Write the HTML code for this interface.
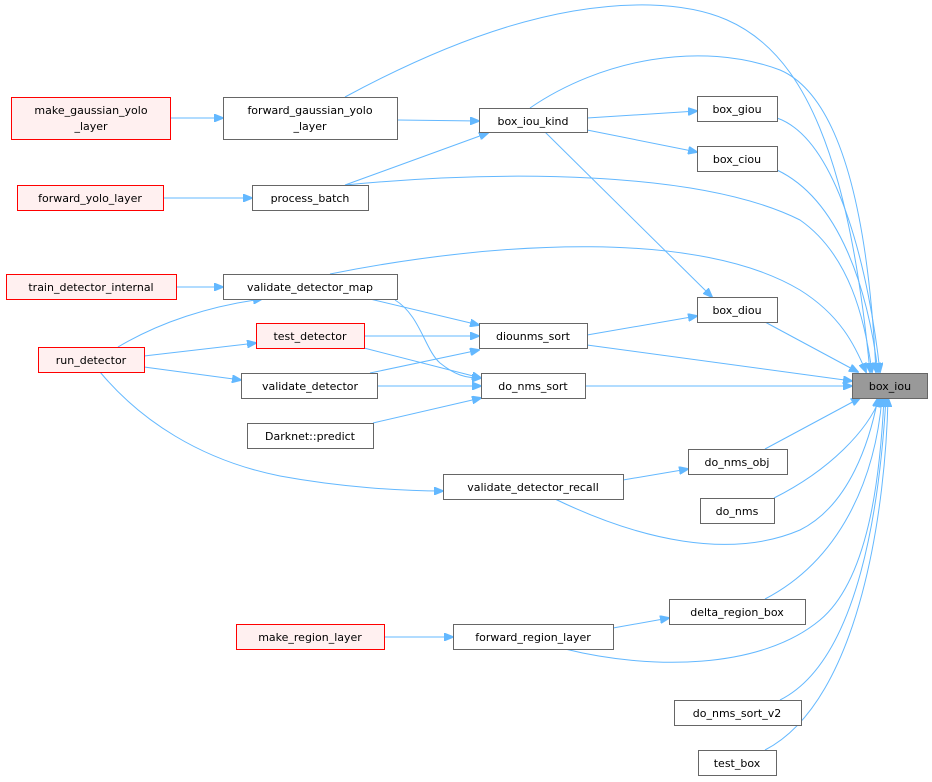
<!DOCTYPE html>
<html><head><meta charset="utf-8"><style>
html,body{margin:0;padding:0;background:#fff;}
svg{display:block;}
text{font-family:"DejaVu Sans","Liberation Sans",sans-serif;font-size:11px;fill:#000;}
.n{fill:#fff;stroke:#666;stroke-width:1;}
.r{fill:#fff0f0;stroke:#ff0000;stroke-width:1;}
.e{fill:none;stroke:#63b8ff;stroke-width:1;marker-end:url(#a);}
</style></head><body>
<svg width="932" height="782" viewBox="0 0 932 782">
<defs><marker id="a" markerWidth="10" markerHeight="8" refX="9" refY="4" orient="auto" markerUnits="userSpaceOnUse"><path d="M0,0 L10,4 L0,8 z" fill="#63b8ff" stroke="#63b8ff"/></marker></defs>
<path class="e" d="M345,97 C460,35 560,3 650,5 C760,8 840,60 870,372"/>
<path class="e" d="M530,108 C600,60 700,40 780,70 C850,100 870,250 876,372"/>
<path class="e" d="M777,118 C840,140 870,280 880,372"/>
<path class="e" d="M777,170 C840,200 868,290 878,372"/>
<path class="e" d="M345,185 C500,170 700,170 800,220 C850,255 865,320 872,372"/>
<path class="e" d="M330,274 C500,240 700,230 800,290 C840,315 855,345 866,372"/>
<path class="e" d="M765,322 L858,372"/>
<path class="e" d="M587,345 L852,381"/>
<path class="e" d="M585,386 L852,386"/>
<path class="e" d="M765,449 L860,398"/>
<path class="e" d="M774,498 C830,470 868,430 880,398"/>
<path class="e" d="M555,499 C640,540 730,560 800,530 C850,505 870,440 878,398"/>
<path class="e" d="M765,599 C840,560 875,480 882,398"/>
<path class="e" d="M565,649 C650,670 760,670 820,620 C868,580 880,480 884,398"/>
<path class="e" d="M780,700 C860,660 880,500 886,398"/>
<path class="e" d="M765,750 C862,700 886,500 888,398"/>
<path class="e" d="M170,118 L223,118"/>
<path class="e" d="M397,120 L479,121"/>
<path class="e" d="M587,118 L697,111"/>
<path class="e" d="M587,130 L697,152"/>
<path class="e" d="M345,185 L488,133"/>
<path class="e" d="M545,132 L712,297"/>
<path class="e" d="M587,335 L697,316"/>
<path class="e" d="M163,198 L252,198"/>
<path class="e" d="M176,287 L223,287"/>
<path class="e" d="M118,347 C160,322 210,306 262,299"/>
<path class="e" d="M144,356 L256,343"/>
<path class="e" d="M144,367 L241,380"/>
<path class="e" d="M100,372 C140,420 200,460 280,476 C340,487 400,491 443,491"/>
<path class="e" d="M370,299 L479,325"/>
<path class="e" d="M395,300 C420,315 425,350 440,363 C455,375 465,378 481,378"/>
<path class="e" d="M364,336 L479,336"/>
<path class="e" d="M364,348 L481,378"/>
<path class="e" d="M370,373 L479,350"/>
<path class="e" d="M377,386 L481,386"/>
<path class="e" d="M373,423 L481,398"/>
<path class="e" d="M623,480 L688,469"/>
<path class="e" d="M384,637 L453,637"/>
<path class="e" d="M613,628 L669,618"/>
<rect x="852.5" y="373.5" width="75" height="25" fill="#999" stroke="#666"/><text x="890" y="390" text-anchor="middle">box_iou</text>
<rect class="r" x="11.5" y="97.5" width="159" height="42"/><text x="91" y="114" text-anchor="middle">make_gaussian_yolo</text><text x="91" y="130" text-anchor="middle">_layer</text>
<rect class="n" x="223.5" y="97.5" width="174" height="42"/><text x="310" y="114" text-anchor="middle">forward_gaussian_yolo</text><text x="310" y="130" text-anchor="middle">_layer</text>
<rect class="n" x="479.5" y="108.5" width="108" height="24"/><text x="533" y="125" text-anchor="middle">box_iou_kind</text>
<rect class="n" x="697.5" y="96.5" width="80" height="25"/><text x="737" y="113" text-anchor="middle">box_giou</text>
<rect class="n" x="697.5" y="146.5" width="80" height="25"/><text x="737" y="163" text-anchor="middle">box_ciou</text>
<rect class="r" x="17.5" y="185.5" width="146" height="25"/><text x="90" y="202" text-anchor="middle">forward_yolo_layer</text>
<rect class="n" x="252.5" y="185.5" width="116" height="25"/><text x="310" y="202" text-anchor="middle">process_batch</text>
<rect class="r" x="6.5" y="274.5" width="170" height="25"/><text x="91" y="291" text-anchor="middle">train_detector_internal</text>
<rect class="n" x="223.5" y="274.5" width="174" height="25"/><text x="310" y="291" text-anchor="middle">validate_detector_map</text>
<rect class="n" x="697.5" y="297.5" width="80" height="25"/><text x="737" y="314" text-anchor="middle">box_diou</text>
<rect class="r" x="256.5" y="323.5" width="108" height="25"/><text x="310" y="340" text-anchor="middle">test_detector</text>
<rect class="n" x="479.5" y="323.5" width="108" height="25"/><text x="533" y="340" text-anchor="middle">diounms_sort</text>
<rect class="r" x="38.5" y="347.5" width="106" height="25"/><text x="91" y="364" text-anchor="middle">run_detector</text>
<rect class="n" x="241.5" y="373.5" width="136" height="25"/><text x="310" y="390" text-anchor="middle">validate_detector</text>
<rect class="n" x="481.5" y="373.5" width="104" height="25"/><text x="533" y="390" text-anchor="middle">do_nms_sort</text>
<rect class="n" x="247.5" y="423.5" width="126" height="25"/><text x="310" y="440" text-anchor="middle">Darknet::predict</text>
<rect class="n" x="688.5" y="449.5" width="99" height="25"/><text x="737" y="466" text-anchor="middle">do_nms_obj</text>
<rect class="n" x="443.5" y="474.5" width="180" height="25"/><text x="533" y="491" text-anchor="middle">validate_detector_recall</text>
<rect class="n" x="700.5" y="498.5" width="74" height="25"/><text x="737" y="515" text-anchor="middle">do_nms</text>
<rect class="n" x="669.5" y="599.5" width="136" height="25"/><text x="737" y="616" text-anchor="middle">delta_region_box</text>
<rect class="r" x="236.5" y="624.5" width="148" height="25"/><text x="310" y="641" text-anchor="middle">make_region_layer</text>
<rect class="n" x="453.5" y="624.5" width="160" height="25"/><text x="533" y="641" text-anchor="middle">forward_region_layer</text>
<rect class="n" x="674.5" y="700.5" width="127" height="25"/><text x="737" y="717" text-anchor="middle">do_nms_sort_v2</text>
<rect class="n" x="698.5" y="750.5" width="78" height="25"/><text x="737" y="767" text-anchor="middle">test_box</text>
</svg>
</body></html>
